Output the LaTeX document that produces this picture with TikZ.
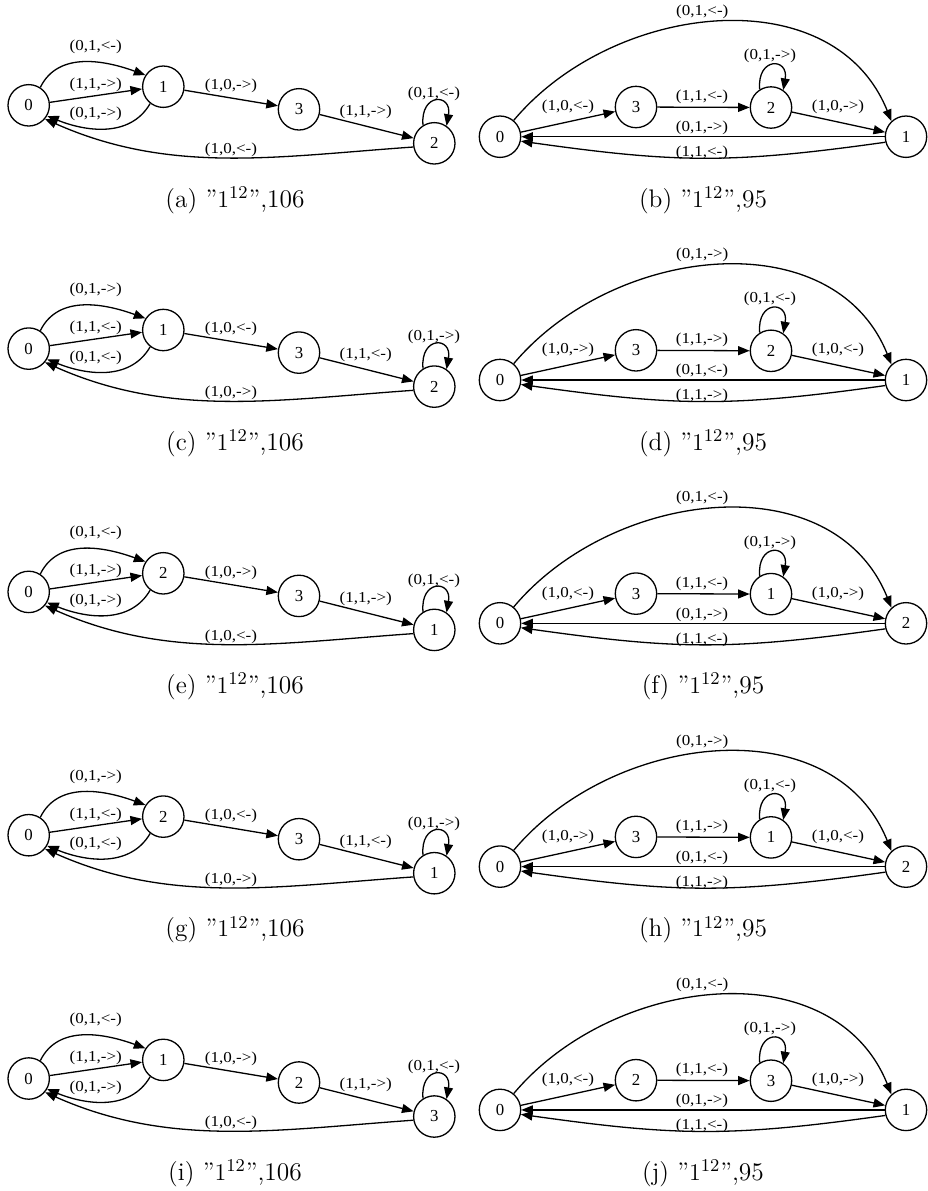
\documentclass[tikz,border=0pt]{standalone}
\usepackage{fontspec}
\usetikzlibrary{arrows.meta}
\newfontfamily\lblfont[FakeStretch=1.12]{Liberation Serif}
\newfontfamily\nodefont{Liberation Serif}
\tikzset{
  st/.style={circle, draw, line width=0.65pt, minimum size=20.7pt, inner sep=0pt, font=\nodefont\fontsize{8.4}{9}\selectfont},
  tr/.style={line width=0.65pt, -{Triangle[length=5.8pt,width=4.5pt]}},
  el/.style={font=\lblfont\fontsize{7.6}{8}\selectfont, inner sep=0pt},
  captxt/.style={font=\fontsize{12.7}{15}\selectfont, anchor=base, inner sep=0pt},
}
% left panel: #1 prefix, #2 yshift, #3 #4 #5 node labels, #6 fwd, #7 back
\newcommand\lpanel[7]{%
\begin{scope}[yshift=#2]
  \node[st] (#1A) at (28.7,-105.3) {0};
  \node[st] (#1B) at (163.3,-86.7) {#3};
  \node[st] (#1C) at (299,-109.3) {#4};
  \node[st] (#1D) at (434.3,-143.3) {#5};
  \draw[tr] (#1A.57) to[out=64,in=160] (#1B.147);
  \draw[tr] (#1A.8) -- (#1B.186);
  \draw[tr] (#1B.232) to[out=240,in=-22] (#1A.-30);
  \draw[tr] (#1B) -- (#1C);
  \draw[tr] (#1C) -- (#1D);
  \draw[tr] (#1D.122) .. controls +(95:33) and +(80:33) .. (#1D.55);
  \draw[tr] (#1D.190) to[out=184,in=-24,looseness=0.95] (#1A.-40);
  \node[el] (#1l1) at (95.7,-46.7) {(0,1,#7)};
  \node[el] (#1l2) at (95.7,-84.5) {(1,1,#6)};
  \node[el] (#1l3) at (95.7,-114.3) {(0,1,#6)};
  \node[el] (#1l4) at (231,-86) {(1,0,#6)};
  \node[el] (#1l5) at (365.7,-112) {(1,1,#6)};
  \node[el] (#1l6) at (434,-94) {(0,1,#7)};
  \node[el] (#1l7) at (231,-150) {(1,0,#7)};
\end{scope}}
% right panel
\newcommand\rpanel[7]{%
\begin{scope}[yshift=#2]
  \node[st] (#1P) at (500,-136.7) {0};
  \node[st] (#1Q) at (636,-107) {#3};
  \node[st] (#1R) at (771,-107.5) {#4};
  \node[st] (#1S) at (906,-136.7) {#5};
  \draw[tr] (#1P.50) to[out=50,in=112,looseness=1.05] (#1S.133);
  \draw[tr] (#1P) -- (#1Q);
  \draw[tr] (#1Q) -- (#1R);
  \draw[tr] (#1R.122) .. controls +(95:33) and +(80:33) .. (#1R.55);
  \draw[tr] (#1R) -- (#1S);
  \draw[tr] (#1S) -- (#1P);
  \draw[tr] (#1S.195) to[out=188,in=-8,looseness=1.1] (#1P.-12);
  \node[el] (#1m1) at (702.3,-11.7) {(0,1,#7)};
  \node[el] (#1m2) at (568,-107) {(1,0,#7)};
  \node[el] (#1m3) at (702,-97) {(1,1,#7)};
  \node[el] (#1m4) at (770,-56) {(0,1,#6)};
  \node[el] (#1m5) at (838,-107) {(1,0,#6)};
  \node[el] (#1m6) at (702,-128) {(0,1,#6)};
  \node[el] (#1m7) at (702,-153) {(1,1,#7)};
\end{scope}}
\begin{document}
\begin{tikzpicture}[x=0.5pt,y=0.5pt]
\useasboundingbox (0,0) rectangle (928,-1191);
\lpanel{a}{0pt}{1}{3}{2}{->}{<-}
\lpanel{c}{-121.65pt}{1}{3}{2}{<-}{->}
\lpanel{e}{-243.3pt}{2}{3}{1}{->}{<-}
\lpanel{g}{-364.95pt}{2}{3}{1}{<-}{->}
\lpanel{i}{-486.6pt}{1}{2}{3}{->}{<-}
\rpanel{b}{0pt}{3}{2}{1}{->}{<-}
\rpanel{d}{-121.65pt}{3}{2}{1}{<-}{->}
\rpanel{f}{-243.3pt}{3}{1}{2}{->}{<-}
\rpanel{h}{-364.95pt}{3}{1}{2}{<-}{->}
\rpanel{j}{-486.6pt}{2}{3}{1}{->}{<-}
\node[captxt] (capa) at (235,-207) {(a)\ ”$1^{12}$”,106};
\node[captxt] (capc) at (235,-450.3) {(c)\ ”$1^{12}$”,106};
\node[captxt] (cape) at (235,-693.6) {(e)\ ”$1^{12}$”,106};
\node[captxt] (capg) at (235,-936.9) {(g)\ ”$1^{12}$”,106};
\node[captxt] (capi) at (235,-1180.2) {(i)\ ”$1^{12}$”,106};
\node[captxt] (capb) at (703,-207) {(b)\ ”$1^{12}$”,95};
\node[captxt] (capd) at (703,-450.3) {(d)\ ”$1^{12}$”,95};
\node[captxt] (capf) at (703,-693.6) {(f)\ ”$1^{12}$”,95};
\node[captxt] (caph) at (703,-936.9) {(h)\ ”$1^{12}$”,95};
\node[captxt] (capj) at (703,-1180.2) {(j)\ ”$1^{12}$”,95};
\end{tikzpicture}
\end{document}
